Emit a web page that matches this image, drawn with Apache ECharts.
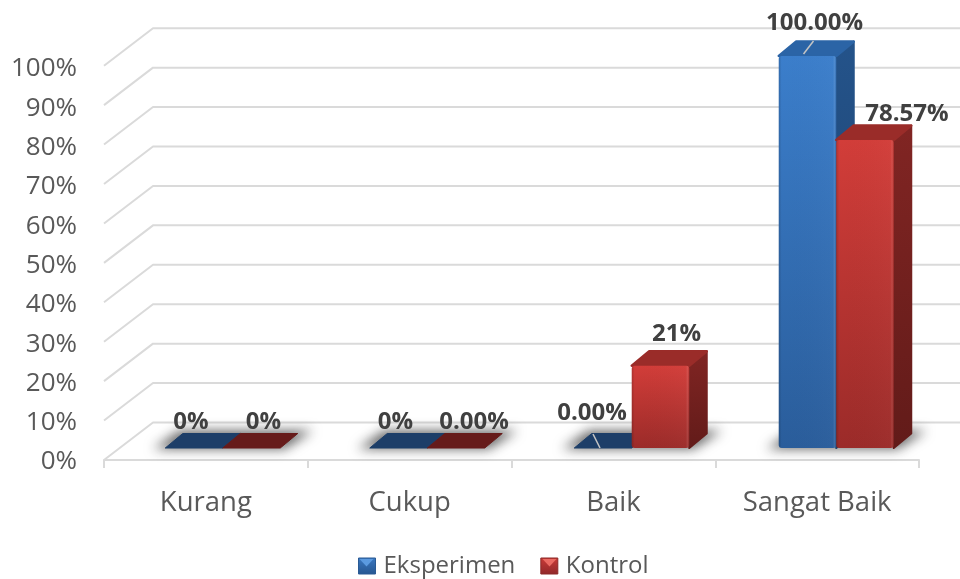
<!DOCTYPE html>
<html>
<head>
<meta charset="utf-8">
<title>Eksperimen dan Kontrol</title>
<script src="https://cdn.jsdelivr.net/npm/echarts@6/dist/echarts.min.js"></script>
<style>html,body{margin:0;padding:0;background:#fff}#c{width:960px;height:579px}</style>
</head>
<body>
<div id="c"></div>
<script>
const categories = ['Kurang', 'Cukup', 'Baik', 'Sangat Baik'];
const eksperimen = [0, 0, 0, 100];
const kontrol = [0, 0, 21, 78.57];
const eksperimenLabels = ['0%', '0%', '0.00%', '100.00%'];
const kontrolLabels = ['0%', '0.00%', '21%', '78.57%'];
const percentTicks = [0, 10, 20, 30, 40, 50, 60, 70, 80, 90, 100];

// Oblique projection of the pseudo-3D box
const WALL_DX = 49, WALL_DY = -37.5;
const BAR_DX = 17.5, BAR_DY = -14.5;
const BAR_W = 57.5;
const FONT = '"Open Sans", "Noto Sans", sans-serif';
const OFFSCREEN = 3000;

// Hand-placed data labels: offset from the bar's top-centre
const eksperimenNudge = [[-3, -26], [-3, -26], [-11, -35], [7, -33]];
const kontrolNudge = [[12, -26], [18, -26], [16, -32], [42, -26]];
// Leader lines from a label to its bar
const eksperimenLeaders = [null, null, [-10, -14, -3, 0], [-4, -2, 6, -15]];
const kontrolLeaders = [null, null, null, null];

function vGrad(a, b) {
  return new echarts.graphic.LinearGradient(0, 0, 0, 1, [
    { offset: 0, color: a }, { offset: 1, color: b }
  ]);
}

const blueSkin = {
  front: vGrad('#3b7ecb', '#2a5d9b'), top: '#2b64a6', side: vGrad('#24538a', '#1d3f69'),
  flat: '#1d3e68', swatch: vGrad('#3a78c2', '#265690'), glint: '#5b9ae0'
};
const redSkin = {
  front: vGrad('#d23d39', '#9b2b29'), top: '#9a2c29', side: vGrad('#812523', '#621b19'),
  flat: '#661b1a', swatch: vGrad('#c93a36', '#90282a'), glint: '#ea6a62'
};

// Left wall slants and back-wall gridlines for one percent tick
function renderWall(params, api) {
  const v = api.value(0);
  const box = params.coordSys;
  const y = api.coord([0, v])[1];
  return {
    type: 'polyline',
    shape: { points: [[box.x, y], [box.x + WALL_DX, y + WALL_DY], [box.x + box.width + WALL_DX, y + WALL_DY]] },
    style: { stroke: '#dadada', lineWidth: 2, fill: null, lineJoin: 'round' },
    silent: true
  };
}

// Soft floor shadow under each category's pair of bars; only the blur is visible,
// the casting shape itself sits off the canvas
function renderShadow(params, api) {
  const c = api.coord([api.value(0), 0]);
  const l = c[0] - BAR_W, r = c[0] + BAR_W, y = c[1];
  return {
    type: 'polygon',
    x: -OFFSCREEN,
    shape: { points: [[l - 12, y + 1], [r + 4, y + 1], [r + BAR_DX + 15, y + BAR_DY - 3], [l + BAR_DX - 3, y + BAR_DY - 3]] },
    style: { fill: '#000', shadowBlur: 12, shadowColor: 'rgba(95,95,95,0.95)', shadowOffsetX: OFFSCREEN },
    silent: true
  };
}

// One box: front, side and top faces from the value scale, then label and leader
function makeBarRenderer(slot, skin, labels, nudge, leaders) {
  return function (params, api) {
    const i = api.value(0), v = api.value(1);
    const anchor = api.coord([i, v]);
    const base = api.coord([i, 0])[1];
    const x0 = anchor[0] + slot * BAR_W, x1 = x0 + BAR_W;
    const yt = anchor[1];
    const h = base - yt;
    const children = [];
    const top = [[x0, yt], [x1, yt], [x1 + BAR_DX, yt + BAR_DY], [x0 + BAR_DX, yt + BAR_DY]];
    if (h > 0.5) {
      children.push({
        type: 'polygon',
        shape: { points: [[x1, yt], [x1 + BAR_DX, yt + BAR_DY], [x1 + BAR_DX, base + BAR_DY], [x1, base]] },
        style: { fill: skin.side, stroke: skin.side, lineWidth: 2, lineJoin: 'round' }
      });
      children.push({
        type: 'polygon',
        shape: { points: top },
        style: { fill: skin.top, stroke: skin.top, lineWidth: 2.5, lineJoin: 'round' }
      });
      children.push({
        type: 'rect',
        shape: { x: x0, y: yt, width: BAR_W, height: h, r: 3 },
        style: { fill: skin.front }
      });
      // Bevelled left and right edges of the front face
      children.push({
        type: 'rect',
        shape: { x: x0, y: yt, width: BAR_W, height: h, r: 3 },
        style: {
          fill: new echarts.graphic.LinearGradient(0, 0, 1, 0, [
            { offset: 0, color: 'rgba(0,0,0,0.16)' },
            { offset: 0.05, color: 'rgba(0,0,0,0)' },
            { offset: 0.94, color: 'rgba(255,255,255,0.02)' },
            { offset: 0.97, color: 'rgba(255,255,255,0.10)' },
            { offset: 1, color: 'rgba(0,0,0,0.12)' }
          ])
        }
      });
    } else {
      children.push({
        type: 'polygon',
        shape: { points: top },
        style: { fill: skin.flat, stroke: skin.flat, lineWidth: 1, lineJoin: 'round' }
      });
    }
    const cx = (x0 + x1) / 2;
    const lead = leaders[i];
    if (lead) {
      children.push({
        type: 'line',
        shape: { x1: cx + lead[0], y1: yt + lead[1], x2: cx + lead[2], y2: yt + lead[3] },
        style: { stroke: '#c4c4c4', lineWidth: 1.5 }
      });
    }
    children.push({
      type: 'text',
      style: {
        text: labels[i], x: cx + nudge[i][0], y: yt + nudge[i][1],
        align: 'center', verticalAlign: 'middle',
        font: 'bold 24px ' + FONT, fill: '#404040'
      }
    });
    return { type: 'group', children: children };
  };
}

// Lighter wedge inside a legend swatch, giving it the same bevelled look as the bars
function swatchGlint(left, color) {
  return {
    type: 'polygon', z: 50, silent: true,
    shape: { points: [[left + 1.5, 559], [left + 15.5, 559], [left + 8.5, 566.5]] },
    style: { fill: color }
  };
}

const chart = echarts.init(document.getElementById('c'), null, { renderer: 'canvas' });
chart.setOption({
  animation: false,
  backgroundColor: '#fff',
  legend: {
    left: 358, top: 554, padding: 0,
    data: [
      { name: 'Eksperimen', itemStyle: { color: blueSkin.swatch, borderColor: '#2a5a94', borderWidth: 1 } },
      { name: 'Kontrol', itemStyle: { color: redSkin.swatch, borderColor: '#8c2a28', borderWidth: 1 } }
    ],
    icon: 'rect', itemWidth: 17, itemHeight: 16, itemGap: 25,
    textStyle: { fontFamily: FONT, fontSize: 24, color: '#595959', padding: [0, 0, 0, 3] },
    selectedMode: false
  },
  graphic: [swatchGlint(358, blueSkin.glint), swatchGlint(541, redSkin.glint)],
  grid: [
    // Front plane: category axis and wall lines
    { left: 104, top: 65.7, width: 815, height: 394.3 },
    // Plane the bars stand on
    { left: 120.5, top: 56, width: 818, height: 392 },
    // Percent tick labels
    { left: 104, top: 69, width: 815, height: 393 }
  ],
  xAxis: [
    {
      type: 'category', gridIndex: 0, data: categories,
      axisLine: { show: true, lineStyle: { color: '#dadada', width: 2 } },
      axisTick: { show: true, length: 8, lineStyle: { color: '#dadada', width: 2 } },
      axisLabel: { fontFamily: FONT, fontSize: 27.5, color: '#595959', margin: 29 }
    },
    { type: 'category', gridIndex: 1, data: categories, show: false },
    { type: 'category', gridIndex: 2, data: categories, show: false }
  ],
  yAxis: [
    { type: 'value', gridIndex: 0, min: 0, max: 100, interval: 10, show: false, splitLine: { show: false } },
    { type: 'value', gridIndex: 1, min: 0, max: 100, show: false, splitLine: { show: false } },
    {
      type: 'value', gridIndex: 2, min: 0, max: 100, interval: 10,
      axisLine: { show: false }, axisTick: { show: false }, splitLine: { show: false },
      axisLabel: { formatter: '{value}%', fontFamily: FONT, fontSize: 26, color: '#595959', margin: 27 }
    }
  ],
  series: [
    {
      name: 'walls', type: 'custom', xAxisIndex: 0, yAxisIndex: 0, clip: false, z: 1,
      coordinateSystem: 'cartesian2d',
      encode: { x: -1, y: 0 },
      data: percentTicks.map(function (t) { return [t]; }),
      renderItem: renderWall
    },
    {
      name: 'shadow', type: 'custom', xAxisIndex: 1, yAxisIndex: 1, clip: false, z: 2,
      encode: { x: 0 },
      data: categories.map(function (c, i) { return [i]; }),
      renderItem: renderShadow
    },
    {
      name: 'Eksperimen', type: 'custom', xAxisIndex: 1, yAxisIndex: 1, clip: false, z: 3,
      itemStyle: { color: '#2f6cb4' },
      encode: { x: 0, y: 1 },
      data: eksperimen.map(function (v, i) { return [i, v]; }),
      renderItem: makeBarRenderer(-1, blueSkin, eksperimenLabels, eksperimenNudge, eksperimenLeaders)
    },
    {
      name: 'Kontrol', type: 'custom', xAxisIndex: 1, yAxisIndex: 1, clip: false, z: 4,
      itemStyle: { color: '#b93231' },
      encode: { x: 0, y: 1 },
      data: kontrol.map(function (v, i) { return [i, v]; }),
      renderItem: makeBarRenderer(0, redSkin, kontrolLabels, kontrolNudge, kontrolLeaders)
    }
  ]
});
</script>
</body>
</html>
